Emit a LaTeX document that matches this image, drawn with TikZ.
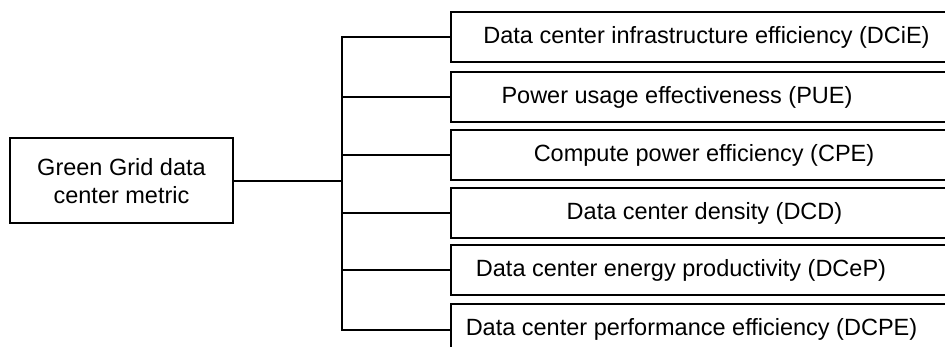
\documentclass[tikz,border=0pt]{standalone}
\usepackage{fontspec}
\setmainfont{Liberation Sans}
\begin{document}
\begin{tikzpicture}[x=1pt,y=-1pt,
  conn/.style={draw,line width=2pt},
  box/.style={draw,line width=2pt,rectangle,minimum width=529pt,minimum height=50pt,inner sep=0pt},
  lbl/.style={font=\fontsize{23.5}{28.2}\selectfont,inner sep=0pt,anchor=center},
  root/.style={draw,line width=2pt,rectangle,minimum width=223pt,minimum height=85pt,align=center,inner sep=0pt,font=\fontsize{23.5}{28.2}\selectfont}]
\useasboundingbox (0,0) rectangle (945,347);
\clip (0,0) rectangle (945,347);
\fill[white] (0,0) rectangle (945,347);
\node[root] (g) at (121.5,181) {Green Grid data\\center metric};
\node[box] (b1) at (715.5,37.5) {};
\node[box] (b2) at (715.5,97.5) {};
\node[box] (b3) at (715.5,155.5) {};
\node[box] (b4) at (715.5,213) {};
\node[box] (b5) at (715.5,270) {};
\node[box] (b6) at (715.5,329.5) {};
\node[lbl] (t1) at (706.5,37.5) {Data center infrastructure efficiency (DCiE)};
\node[lbl] (t2) at (677,97.5) {Power usage effectiveness (PUE)};
\node[lbl] (t3) at (704,155.5) {Compute power efficiency (CPE)};
\node[lbl] (t4) at (704.5,213) {Data center density (DCD)};
\node[lbl] (t5) at (681,270) {Data center energy productivity (DCeP)};
\node[lbl] (t6) at (691.5,329.5) {Data center performance efficiency (DCPE)};
\coordinate (j) at (342,181);
\path[conn] (g.east) -- (j);
\foreach \i in {1,...,6} { \path[conn] (j) |- (b\i.west); }
\end{tikzpicture}
\end{document}
